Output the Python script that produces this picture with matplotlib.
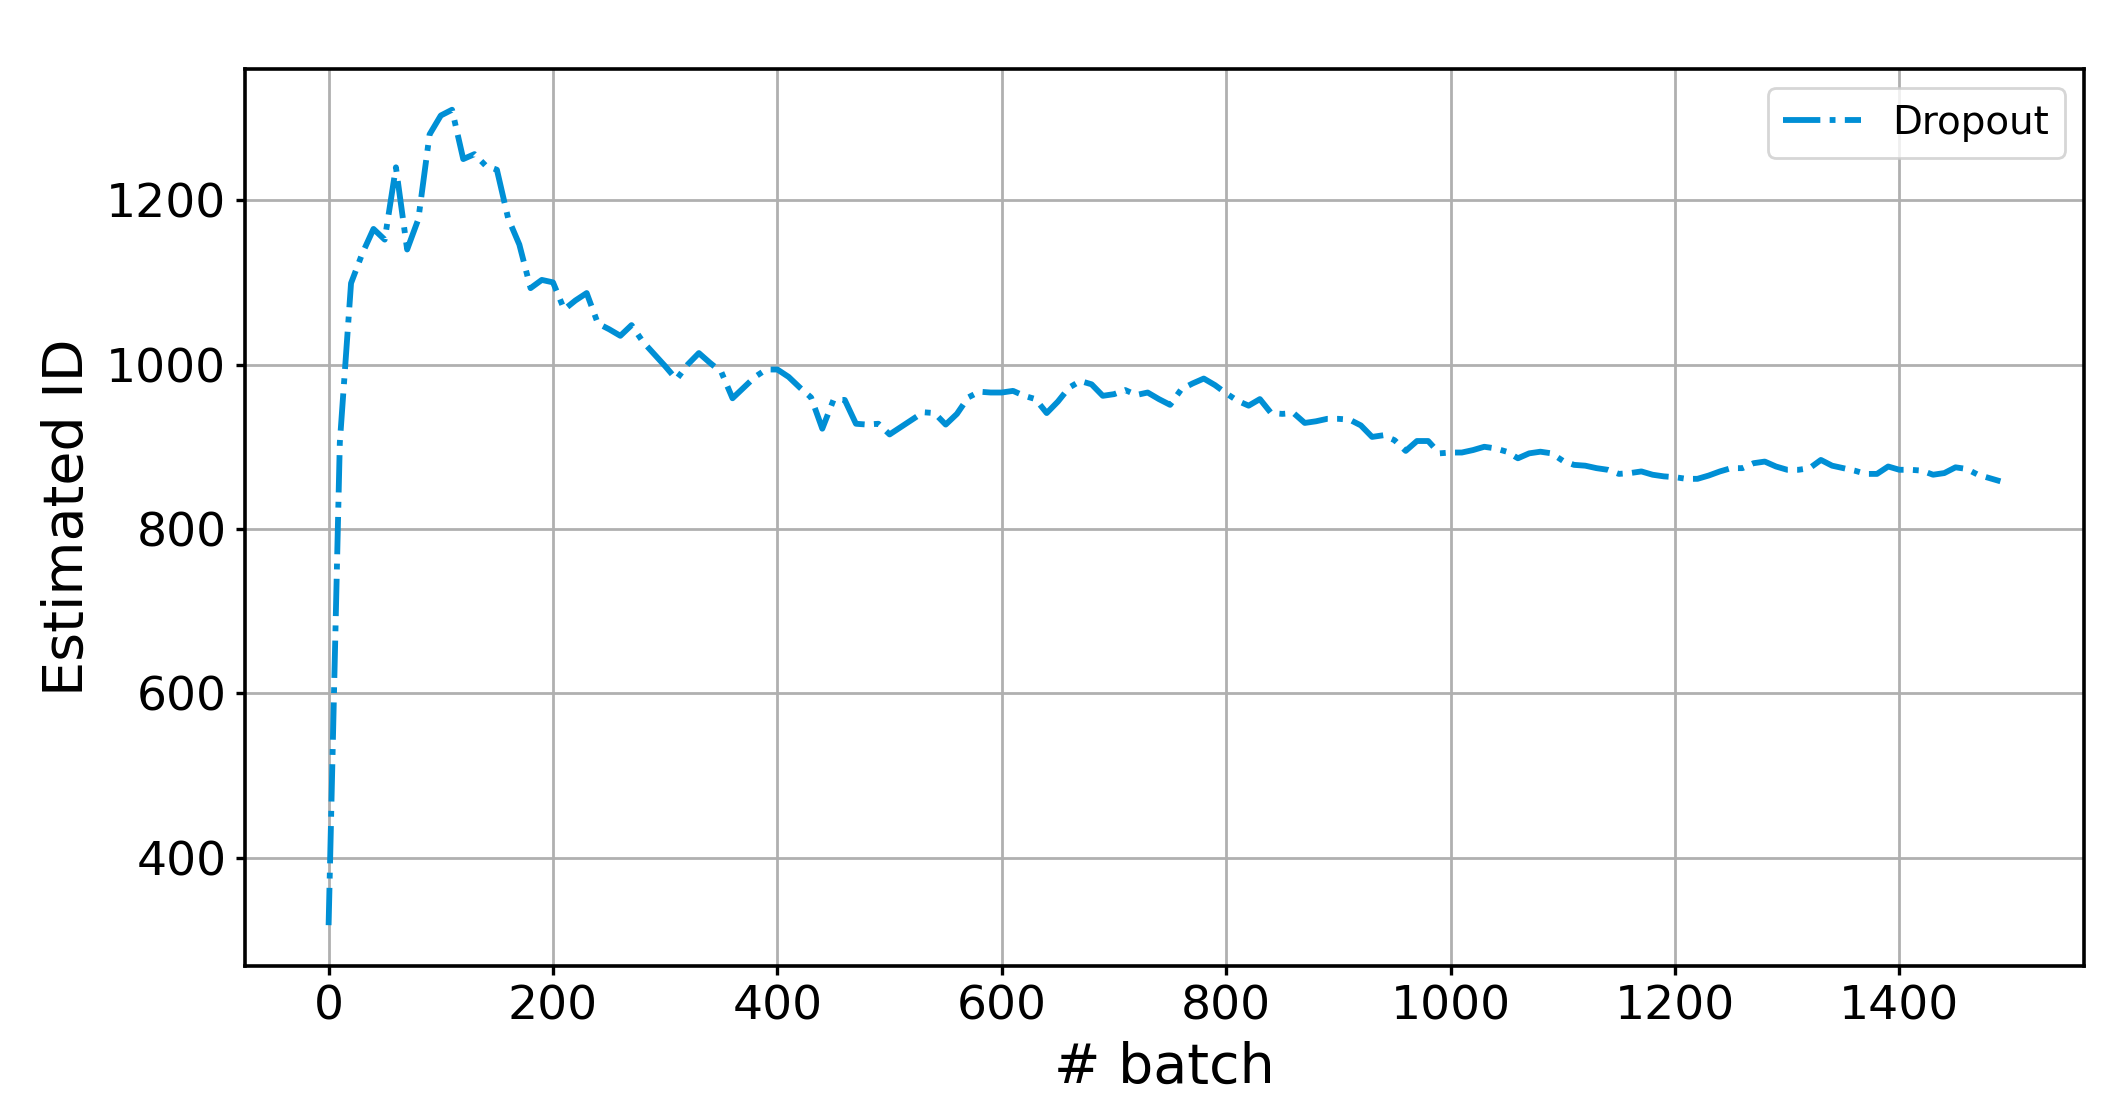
import matplotlib as mpl; mpl.use('Agg')
import matplotlib.pyplot as plt

# estimated intrinsic dimension, sampled every 10 batches
batch = list(range(0, 1500, 10))
est_id = [318, 905, 1099, 1135, 1165, 1152, 1240, 1140, 1177, 1280,
          1303, 1310, 1250, 1256, 1242, 1237, 1178, 1146, 1093, 1103,
          1100, 1067, 1078, 1087, 1050, 1043, 1035, 1048, 1028, 1013,
          998, 982, 1000, 1014, 1002, 991, 959, 972, 985, 994,
          994, 985, 972, 960, 922, 957, 957, 928, 927, 928,
          915, 924, 933, 942, 941, 927, 940, 960, 967, 966,
          966, 968, 962, 958, 941, 955, 972, 980, 976, 962,
          964, 969, 963, 966, 958, 951, 970, 977, 983, 975,
          965, 956, 950, 958, 941, 940, 941, 929, 931, 934,
          934, 933, 926, 912, 914, 908, 895, 907, 907, 892,
          893, 893, 896, 900, 898, 894, 886, 892, 894, 892,
          883, 878, 877, 874, 872, 867, 868, 870, 866, 864,
          863, 861, 861, 865, 870, 874, 874, 880, 882, 876,
          872, 872, 874, 884, 877, 874, 871, 867, 867, 876,
          872, 872, 871, 866, 868, 875, 873, 866, 862, 858]
label = 'Dropout'

fig = plt.figure(figsize=(10.625, 5.59), dpi=200)
ax = fig.add_axes([0.1153, 0.136, 0.8654, 0.8023])
ax.plot(batch, est_id, '-.', color='#008fd5', lw=2.1, label=label)
ax.grid(True, color='#b0b0b0', lw=1.0)
ax.set_axisbelow(True)
for s in ax.spines.values():
    s.set_linewidth(1.3)
ax.tick_params(labelsize=17, length=3.2, width=1.2)
ax.set_xlabel('# batch', fontsize=20)
ax.set_ylabel('Estimated ID', fontsize=20)
ax.legend(loc='upper right', fontsize=14)
fig.savefig('out.png', dpi=200)
